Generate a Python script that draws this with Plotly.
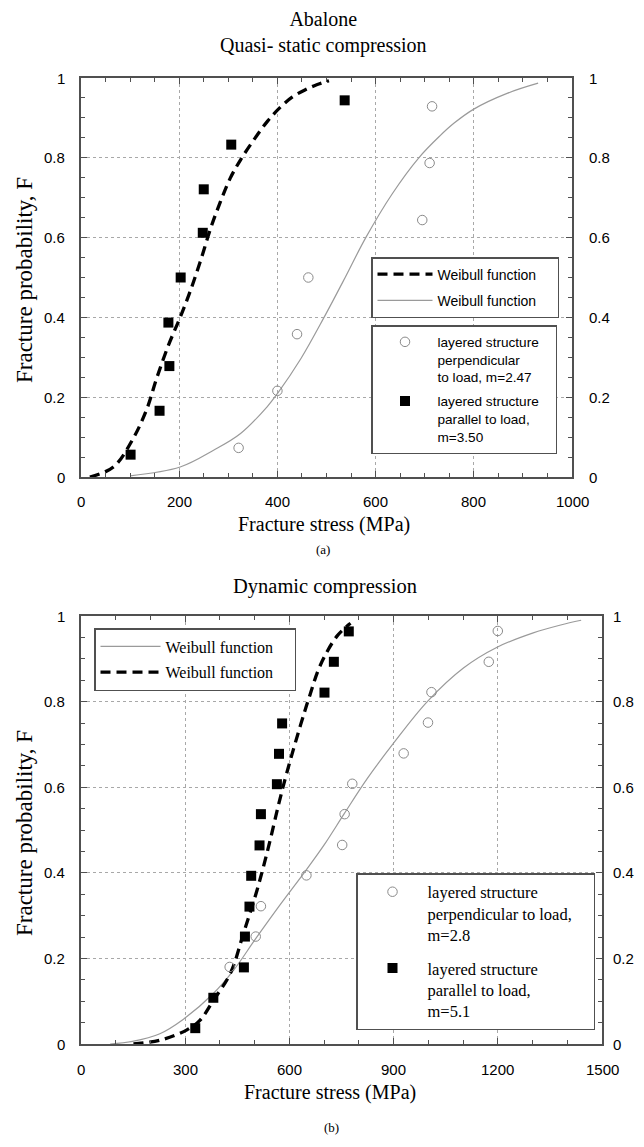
import plotly.graph_objects as go

# the page has an 8px body margin: lay the figure out in page pixels, shifted by it
OFF = 8
W, H = 644 - 2 * OFF, 1147 - 2 * OFF

def px(x):
    return (x - OFF) / W

def py(y):
    return 1 - (y - OFF) / H

NB = "\u00a0"

# ---------------- data: (a) quasi-static ----------------
a_par_x = [101, 160, 180, 178, 203, 248, 250, 306, 537]
a_par_y = [0.056, 0.166, 0.278, 0.387, 0.500, 0.612, 0.721, 0.833, 0.944]
a_perp_x = [321, 400, 440, 463, 695, 710, 715]
a_perp_y = [0.073, 0.216, 0.358, 0.500, 0.644, 0.787, 0.929]
a_fit_par_x = [18, 66, 106, 134, 154, 178, 202, 222, 243, 264, 284, 304, 325, 352, 380, 407, 430, 456, 480, 505]
a_fit_par_y = [0.0, 0.025, 0.096, 0.17, 0.247, 0.33, 0.40, 0.464, 0.54, 0.623, 0.69, 0.749, 0.795, 0.845, 0.892, 0.928, 0.952, 0.970, 0.983, 0.993]
a_fit_perp_x = [100, 202, 270, 325, 379, 400, 448, 495, 538, 580, 634, 688, 731, 760, 800, 869, 931]
a_fit_perp_y = [0.003, 0.025, 0.067, 0.109, 0.176, 0.209, 0.297, 0.40, 0.50, 0.60, 0.71, 0.80, 0.855, 0.887, 0.922, 0.962, 0.987]

# ---------------- data: (b) dynamic ----------------
b_par_x = [329, 381, 469, 472, 485, 490, 514, 518, 564, 570, 579, 701, 728, 771]
b_par_y = [0.037, 0.108, 0.179, 0.251, 0.321, 0.393, 0.464, 0.537, 0.607, 0.678, 0.749, 0.821, 0.893, 0.964]
b_perp_x = [428, 503, 518, 649, 752, 759, 781, 929, 999, 1009, 1174, 1200]
b_perp_y = [0.180, 0.251, 0.322, 0.394, 0.465, 0.537, 0.608, 0.679, 0.751, 0.822, 0.893, 0.965]
b_fit_par_x = [151, 228, 305, 343, 382, 430, 468, 507, 540, 569, 593, 632, 659, 689, 737, 776]
b_fit_par_y = [0.0, 0.009, 0.033, 0.056, 0.103, 0.165, 0.259, 0.36, 0.461, 0.56, 0.635, 0.745, 0.815, 0.885, 0.953, 0.983]
b_fit_perp_x = [84, 148, 227, 295, 381, 439, 502, 573, 646, 704, 757, 824, 901, 997, 1102, 1198, 1300, 1381, 1440]
b_fit_perp_y = [0.0, 0.006, 0.024, 0.058, 0.118, 0.172, 0.245, 0.325, 0.404, 0.47, 0.537, 0.62, 0.704, 0.8, 0.879, 0.927, 0.960, 0.979, 0.99]

y_ticks = [0, 0.2, 0.4, 0.6, 0.8, 1]
y_tick_text = ["0", "0.2", "0.4", "0.6", "0.8", "1"]
a_x_ticks = [0, 200, 400, 600, 800, 1000]
b_x_ticks = [0, 300, 600, 900, 1200, 1500]

SANS = "Liberation Sans, Arial, sans-serif"
SERIF = "Liberation Serif, Times New Roman, serif"
FRAME = "#505050"
GREY = "#9a9a9a"
CIRC = "#8a8a8a"
DASH = "10px,6px"

fig = go.Figure()

# (a) traces
fig.add_trace(go.Scatter(x=a_fit_par_x, y=a_fit_par_y, mode="lines", line_shape="spline",
                         line=dict(color="black", width=3.3, dash=DASH),
                         name="Weibull function" + NB * 4, legend="legend", legendgroup="a1",
                         legendrank=1, xaxis="x", yaxis="y"))
fig.add_trace(go.Scatter(x=a_fit_perp_x, y=a_fit_perp_y, mode="lines", line_shape="spline",
                         line=dict(color=GREY, width=1.2),
                         name="Weibull function", legend="legend", legendgroup="a2",
                         legendrank=2, xaxis="x", yaxis="y"))
fig.add_trace(go.Scatter(x=a_perp_x, y=a_perp_y, mode="markers",
                         marker=dict(symbol="circle-open", size=9.5, color=CIRC, line=dict(width=1)),
                         name="layered structure" + NB * 3 + "<br>perpendicular<br>to load, m=2.47",
                         legend="legend2", legendgroup="a3", legendrank=1, xaxis="x", yaxis="y"))
fig.add_trace(go.Scatter(x=a_par_x, y=a_par_y, mode="markers",
                         marker=dict(symbol="square", size=10, color="black"),
                         name="layered structure<br>parallel to load,<br>m=3.50",
                         legend="legend2", legendgroup="a4", legendrank=2, xaxis="x", yaxis="y"))

# (b) traces
fig.add_trace(go.Scatter(x=b_fit_perp_x, y=b_fit_perp_y, mode="lines", line_shape="spline",
                         line=dict(color=GREY, width=1.2),
                         name="Weibull function" + NB * 4, legend="legend3", legendgroup="b1",
                         legendrank=1, xaxis="x2", yaxis="y2"))
fig.add_trace(go.Scatter(x=b_fit_par_x, y=b_fit_par_y, mode="lines", line_shape="spline",
                         line=dict(color="black", width=3.3, dash=DASH),
                         name="Weibull function", legend="legend3", legendgroup="b2",
                         legendrank=2, xaxis="x2", yaxis="y2"))
fig.add_trace(go.Scatter(x=b_perp_x, y=b_perp_y, mode="markers",
                         marker=dict(symbol="circle-open", size=9.5, color=CIRC, line=dict(width=1)),
                         name="layered structure<br>perpendicular to load," + NB * 4 + "<br>m=2.8",
                         legend="legend4", legendgroup="b3", legendrank=1, xaxis="x2", yaxis="y2"))
fig.add_trace(go.Scatter(x=b_par_x, y=b_par_y, mode="markers",
                         marker=dict(symbol="square", size=10, color="black"),
                         name="layered structure<br>parallel to load,<br>m=5.1",
                         legend="legend4", legendgroup="b4", legendrank=2, xaxis="x2", yaxis="y2"))


def base_axis(rng, ticks, dom, anchor, minor_dt):
    return dict(range=rng, domain=dom, anchor=anchor, tickvals=ticks, showticklabels=False,
                automargin=False,
                showline=True, linecolor=FRAME, linewidth=1.5, mirror="allticks",
                ticks="inside", ticklen=6, tickcolor=FRAME, tickwidth=1,
                minor=dict(dtick=minor_dt, ticks="inside", ticklen=4, tickcolor=FRAME, showgrid=False),
                showgrid=True, gridcolor="#a8a8a8", griddash="dot", gridwidth=1,
                zeroline=False)

a_xdom = [px(81), px(572)]
a_ydom = [py(477), py(78)]
b_xdom = [px(81), px(602)]
b_ydom = [py(1044), py(616)]


def legend_box(x0, y0, fam, size, iw, gap):
    return dict(x=px(x0), y=py(y0), xanchor="left", yanchor="top", xref="paper", yref="paper",
                bgcolor="white", bordercolor=FRAME, borderwidth=1.5,
                font=dict(family=fam, size=size, color="black"), valign="top",
                tracegroupgap=gap, itemwidth=iw, traceorder="grouped")

fig.update_layout(
    width=W, height=H, autosize=False,
    margin=dict(l=0, r=0, t=0, b=0),
    paper_bgcolor="white", plot_bgcolor="white",
    showlegend=True,
    xaxis=base_axis([0, 1000], a_x_ticks, a_xdom, "y", 50),
    yaxis=base_axis([0, 1], y_ticks, a_ydom, "x", 0.05),
    xaxis2=base_axis([0, 1500], b_x_ticks, b_xdom, "y2", 100),
    yaxis2=base_axis([0, 1], y_ticks, b_ydom, "x2", 0.05),
    legend=legend_box(371, 257, SANS, 14, 55, 5),
    legend2=legend_box(371, 325, SANS, 13.6, 55, 3),
    legend3=legend_box(94, 628, SERIF, 16, 60, 2),
    legend4=legend_box(356, 873, SERIF, 16.5, 60, 9),
)

TICKFONT = dict(family=SANS, size=15, color="black")

# tick labels, placed on each panel's own axis scales
for v in a_x_ticks:
    fig.add_annotation(text=str(v), x=v, xref="x", y=py(501), yref="paper", showarrow=False,
                       xanchor="center", yanchor="middle", font=TICKFONT)
for v in b_x_ticks:
    fig.add_annotation(text=str(v), x=v, xref="x2", y=py(1069), yref="paper", showarrow=False,
                       xanchor="center", yanchor="middle", font=TICKFONT)
for v, t in zip(y_ticks, y_tick_text):
    fig.add_annotation(text=t, x=px(67), y=v, xref="paper", yref="y", showarrow=False,
                       xanchor="right", yanchor="middle", font=TICKFONT)
    fig.add_annotation(text=t, x=px(587), y=v, xref="paper", yref="y", showarrow=False,
                       xanchor="left", yanchor="middle", font=TICKFONT)
    fig.add_annotation(text=t, x=px(67), y=v, xref="paper", yref="y2", showarrow=False,
                       xanchor="right", yanchor="middle", font=TICKFONT)
    fig.add_annotation(text=t, x=px(611), y=v, xref="paper", yref="y2", showarrow=False,
                       xanchor="left", yanchor="middle", font=TICKFONT)

# two-line title of panel (a), anchored to the top of the figure so it is not clipped
fig.add_annotation(text="Abalone<br>Quasi- static compression", x=px(323), y=py(OFF),
                   xref="paper", yref="paper", showarrow=False, xanchor="center", yanchor="top",
                   align="center", borderpad=0, borderwidth=0,
                   font=dict(family=SERIF, size=20, color="black"))

texts = [
    ("Fracture stress (MPa)", 324, 525, 20, 0),
    ("(a)", 323, 549, 13, 0),
    ("Dynamic compression", 325, 586, 20.5, 0),
    ("Fracture stress (MPa)", 330, 1092, 20, 0),
    ("(b)", 331, 1127, 13, 0),
    ("Fracture probability, F", 24, 280, 23, -90),
    ("Fracture probability, F", 24, 833, 23, -90),
]
for t, x, y, s, ang in texts:
    fig.add_annotation(text=t, x=px(x), y=py(y), xref="paper", yref="paper",
                       showarrow=False, xanchor="center", yanchor="middle", textangle=ang,
                       font=dict(family=SERIF, size=s, color="black"))

fig.write_html("out.html")
